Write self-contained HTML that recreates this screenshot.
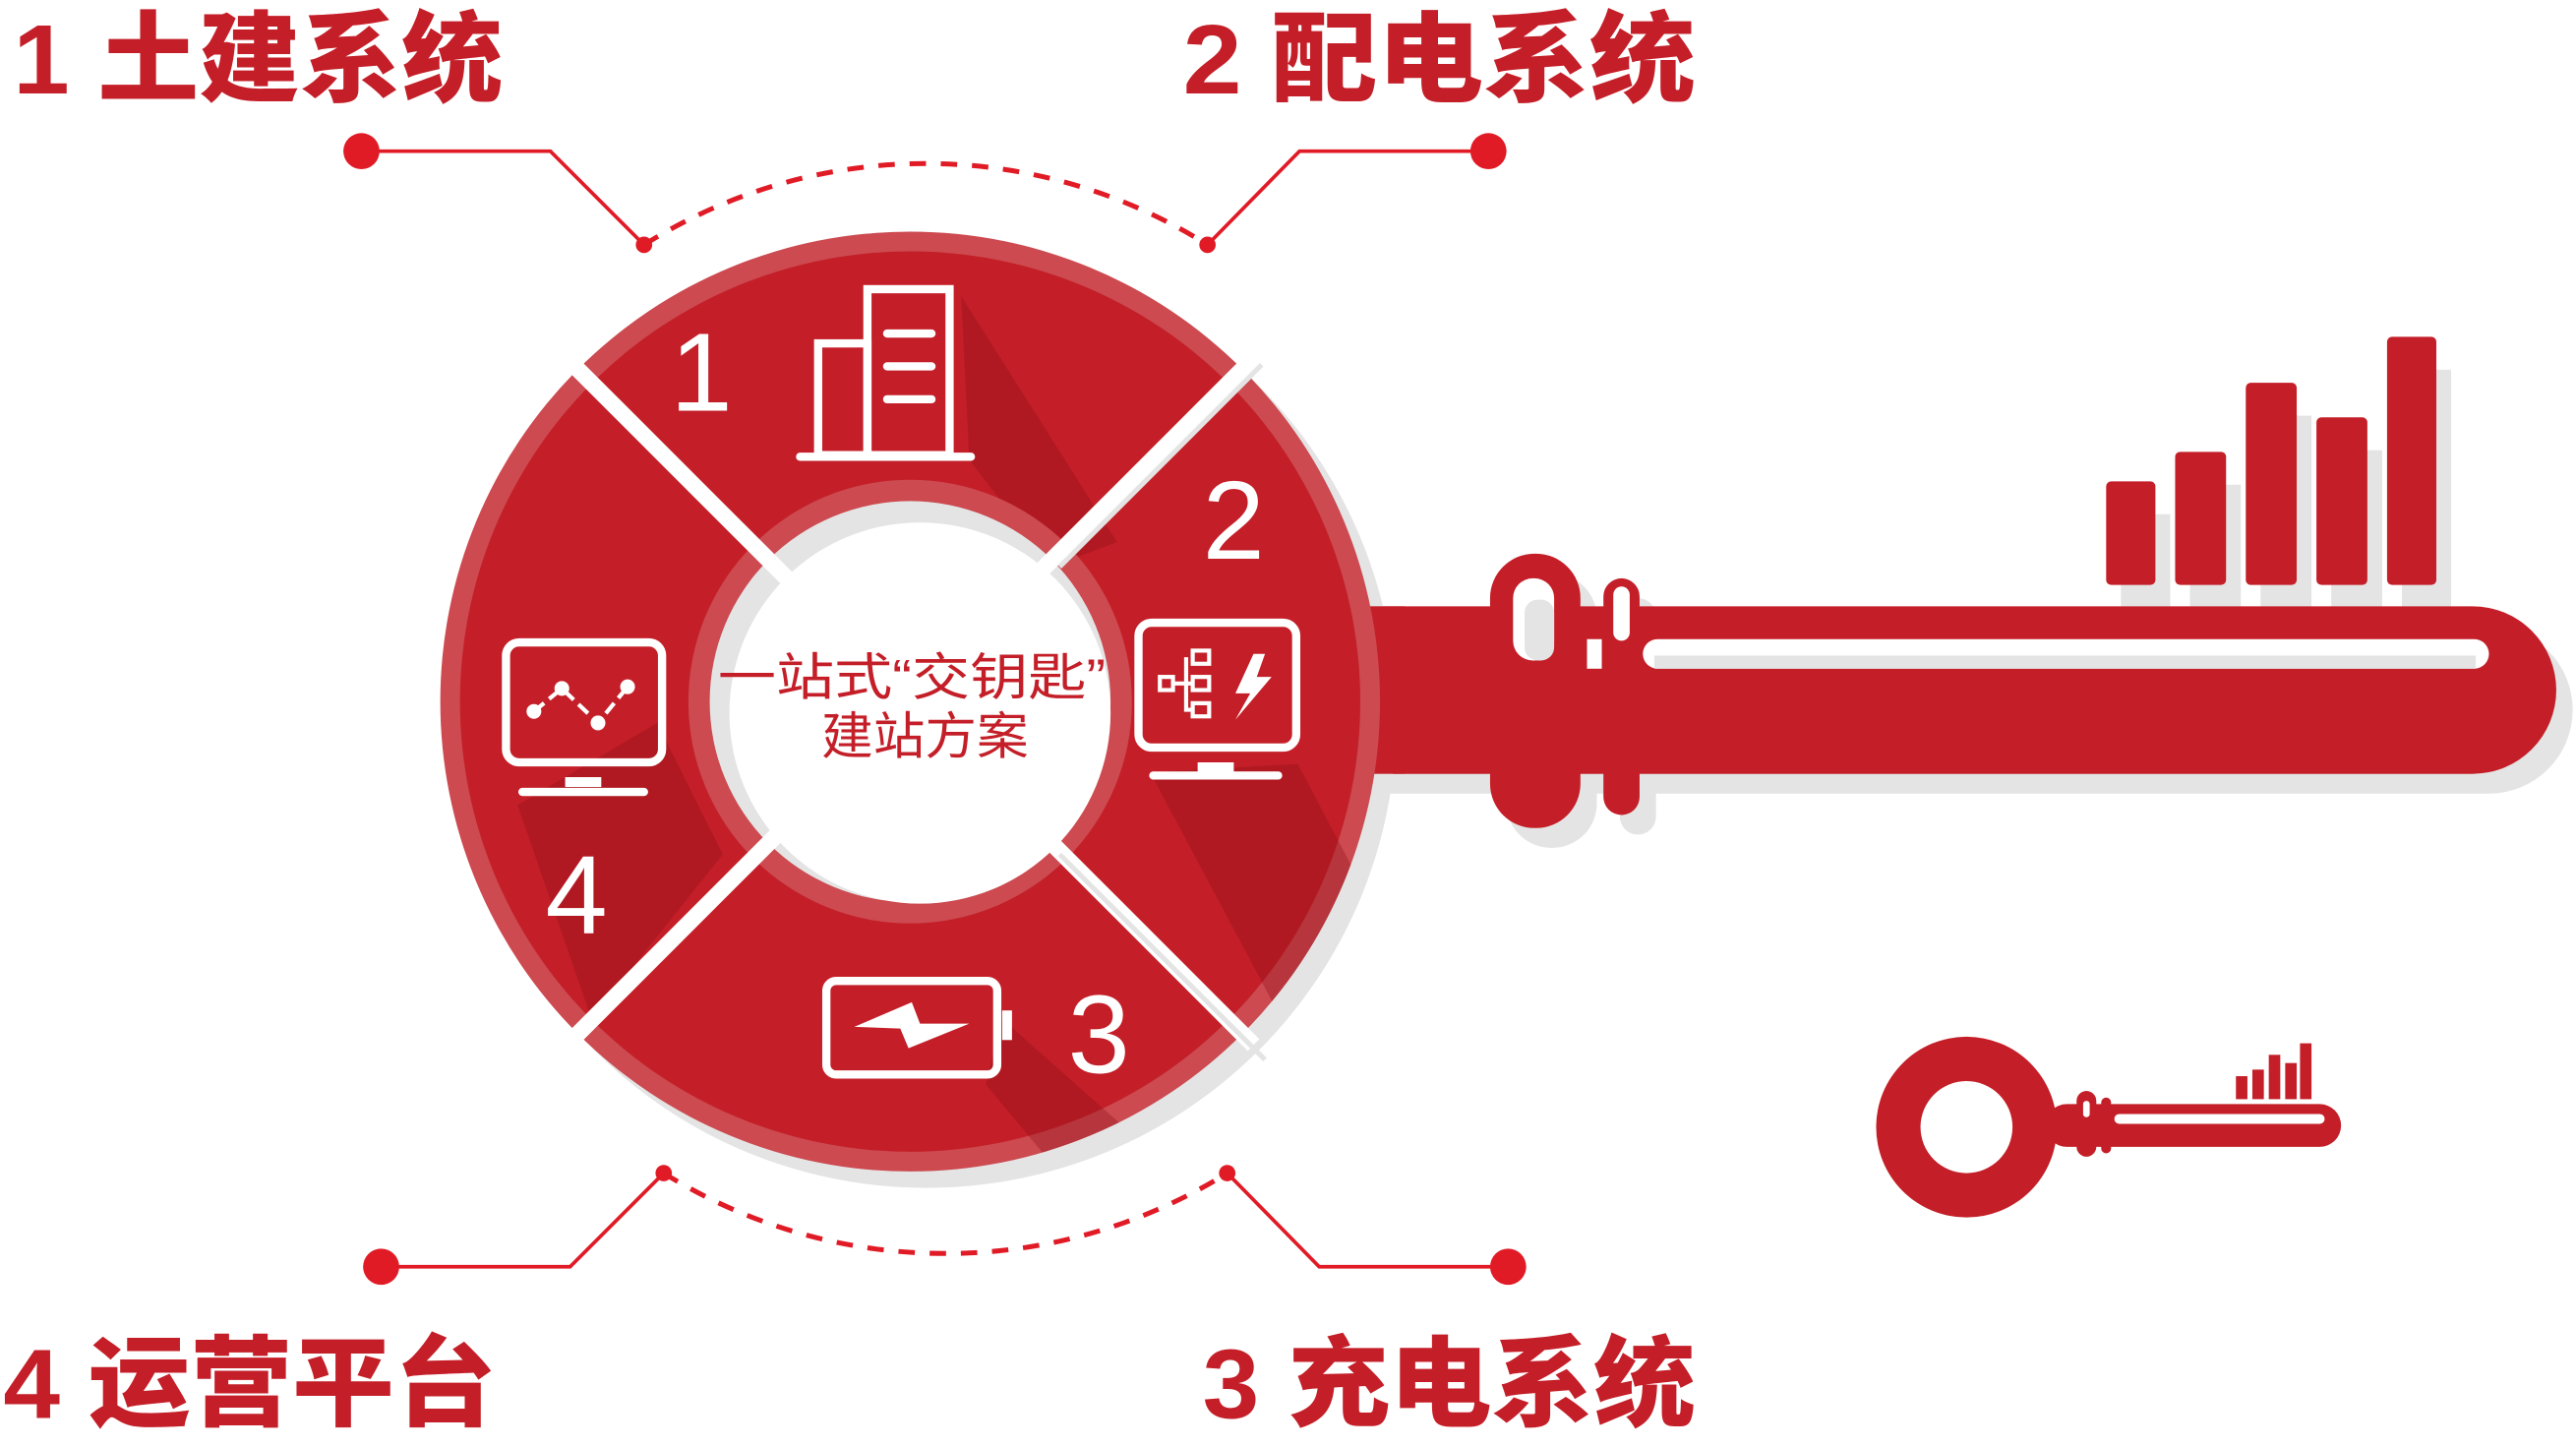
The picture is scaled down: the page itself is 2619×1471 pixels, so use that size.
<!DOCTYPE html>
<html><head><meta charset="utf-8"><style>html,body{margin:0;padding:0;background:#fff}svg{display:block}</style></head>
<body>
<svg width="2619" height="1471" viewBox="0 0 1568 880.7" preserveAspectRatio="none" xmlns="http://www.w3.org/2000/svg">
<defs>
<clipPath id="ring"><path fill-rule="evenodd" d="M554,141a286,286 0 1,0 0.01,0zM554,292a135,135 0 1,0 0.01,0z"/></clipPath>
</defs>
<g font-family="'Liberation Sans','Noto Sans CJK SC',sans-serif" font-weight="900" fill="#c41f28" font-size="60">
<text x="8" y="57" textLength="298" lengthAdjust="spacingAndGlyphs">1 土建系统</text>
<text x="720" y="57" textLength="312" lengthAdjust="spacingAndGlyphs">2 配电系统</text>
<text x="2" y="863" textLength="300" lengthAdjust="spacingAndGlyphs">4 运营平台</text>
<text x="732" y="863" textLength="300" lengthAdjust="spacingAndGlyphs">3 充电系统</text>
</g>
<g stroke="#e01b26" stroke-width="2.2" fill="none">
<polyline points="220,92 335,92 392,149"/>
<polyline points="906,92 791,92 735,149"/>
<polyline points="232,771 347,771 404,714"/>
<polyline points="918,771 803,771 747,714"/>
<path d="M392,149 A322,322 0 0,1 735,149" stroke-dasharray="10,9" stroke-width="3"/>
<path d="M404,714 A325,325 0 0,0 747,714" stroke-dasharray="10,9" stroke-width="3"/>
</g>
<g fill="#e01b26">
<circle cx="220" cy="92" r="11"/><circle cx="906" cy="92" r="11"/>
<circle cx="232" cy="771" r="11"/><circle cx="918" cy="771" r="11"/>
<circle cx="392" cy="149" r="5"/><circle cx="735" cy="149" r="5"/>
<circle cx="404" cy="714" r="5"/><circle cx="747" cy="714" r="5"/>
</g>
<g fill="#e4e4e4">
<path d="M845,381 H1515 a51,51 0 0 1 0,102 H845z"/>
<rect x="917" y="349" width="55" height="167" rx="27"/>
<rect x="986" y="364" width="22" height="144" rx="11"/>
<rect x="1291" y="313" width="30" height="60"/><rect x="1333" y="295" width="31" height="78"/>
<rect x="1376" y="253" width="31" height="120"/><rect x="1419" y="274" width="31" height="99"/>
<rect x="1462" y="225" width="30" height="148"/>
</g>
<g fill="#c41f28">
<path d="M830,369 H1505 a51,51 0 0 1 0,102 H830z"/>
<rect x="907" y="337" width="55" height="167" rx="27"/>
<rect x="976" y="352" width="22" height="144" rx="11"/>
<rect x="1282" y="293" width="30" height="63" rx="3"/><rect x="1324" y="275" width="31" height="81" rx="3"/>
<rect x="1367" y="233" width="31" height="123" rx="3"/><rect x="1410" y="254" width="31" height="102" rx="3"/>
<rect x="1453" y="205" width="30" height="151" rx="3"/>
</g>
<rect x="1000" y="389" width="515" height="18" rx="9" fill="#fff"/>
<rect x="1007" y="399" width="500" height="8" fill="#e4e4e4"/>
<rect x="966" y="389" width="9" height="18" fill="#fff"/>
<rect x="921" y="352" width="25" height="50" rx="12" fill="#fff"/>
<rect x="928" y="365" width="18" height="37" rx="8" fill="#e4e4e4"/>
<rect x="982" y="357" width="10" height="33" rx="5" fill="#fff"/>
<circle cx="564" cy="437" r="286" fill="#e4e4e4"/>
<rect x="830" y="369" width="25" height="102" fill="#c41f28"/>
<circle cx="554" cy="427" r="286" fill="#cc4a50"/>
<circle cx="554" cy="427" r="274" fill="#c41f28"/>
<g clip-path="url(#ring)" fill="#8e0f16" opacity="0.35">
<polygon points="585,180 680,330 640,345 590,280"/>
<polygon points="790,465 840,560 780,620 700,470"/>
<polygon points="610,620 700,700 650,720 600,660"/>
<polygon points="400,440 440,520 360,620 315,490"/>
</g>
<circle cx="554" cy="427" r="135" fill="#cc4a50"/>
<circle cx="554" cy="427" r="122" fill="#e4e4e4"/>
<circle cx="560" cy="434" r="116" fill="#fff"/>
<g stroke="#fff" stroke-width="10">
<line x1="345" y1="218" x2="763" y2="636"/>
<line x1="763" y1="218" x2="345" y2="636"/>
</g>
<g stroke="#e4e4e4" stroke-width="3">
<line x1="645" y1="345" x2="768" y2="222"/>
<line x1="645" y1="520" x2="770" y2="645"/>
</g>
<g fill="#fff" font-family="'Liberation Sans',sans-serif" font-size="68">
<text x="408" y="250">1</text><text x="732" y="340">2</text>
<text x="650" y="653">3</text><text x="332" y="568">4</text>
</g>
<g fill="none" stroke="#fff" stroke-width="5" stroke-linecap="round">
<rect x="528" y="176" width="50" height="101"/><rect x="498" y="209" width="30" height="68"/>
<line x1="487" y1="278" x2="591" y2="278"/>
<line x1="540" y1="203" x2="567" y2="203"/><line x1="540" y1="223" x2="567" y2="223"/><line x1="540" y1="243" x2="567" y2="243"/>
<rect x="693" y="379" width="96" height="76" rx="8"/><line x1="702" y1="472" x2="778" y2="472"/>
<rect x="308" y="391" width="95" height="73" rx="8"/><line x1="318" y1="482" x2="392" y2="482"/>
<rect x="503" y="597" width="104" height="57" rx="6"/>
</g>
<g fill="#fff">
<rect x="610" y="615" width="6" height="18"/>
<rect x="729" y="464" width="22" height="6"/><rect x="344" y="473" width="22" height="6"/>
<polygon points="520,625 555,610 560,623 590,623 553,638 548,626"/>
<polygon points="763,398 752,422 761,422 752,438 774,412 765,412 770,398"/>
</g>
<g fill="none" stroke="#fff" stroke-width="2.5">
<rect x="706" y="412" width="8" height="8"/><rect x="726" y="396" width="10" height="8"/><rect x="726" y="412" width="10" height="8"/><rect x="726" y="428" width="10" height="8"/>
<polyline points="714,416 726,416"/><polyline points="722,400 722,432 726,432"/>
<polyline points="325,433 342,419 364,440 382,418" stroke-dasharray="8,4"/>
</g>
<g fill="#fff"><circle cx="325" cy="433" r="4.5"/><circle cx="342" cy="419" r="4.5"/><circle cx="364" cy="440" r="4.5"/><circle cx="382" cy="418" r="4.5"/></g>
<g fill="#c41f28" font-family="'Liberation Sans','Noto Sans CJK SC',sans-serif" font-size="31">
<text x="437" y="423" textLength="236" lengthAdjust="spacingAndGlyphs">一站式“交钥匙”</text>
<text x="500" y="459" textLength="126" lengthAdjust="spacingAndGlyphs">建站方案</text>
</g>
<g fill="#c41f28">
<circle cx="1197" cy="686" r="55"/>
<rect x="1245" y="672" width="180" height="26" rx="13"/>
<rect x="1264" y="664" width="12" height="40" rx="6"/><rect x="1279" y="668" width="6" height="34" rx="3"/>
<rect x="1361" y="655" width="7" height="14"/><rect x="1371" y="651" width="7" height="18"/><rect x="1381" y="642" width="7" height="27"/><rect x="1391" y="647" width="7" height="22"/><rect x="1400" y="635" width="7" height="34"/>
</g>
<circle cx="1197" cy="686" r="28" fill="#fff"/>
<rect x="1287" y="678" width="128" height="6" rx="3" fill="#fff"/>
<rect x="1268" y="670" width="4" height="10" rx="2" fill="#fff"/>
</svg>
</body></html>
